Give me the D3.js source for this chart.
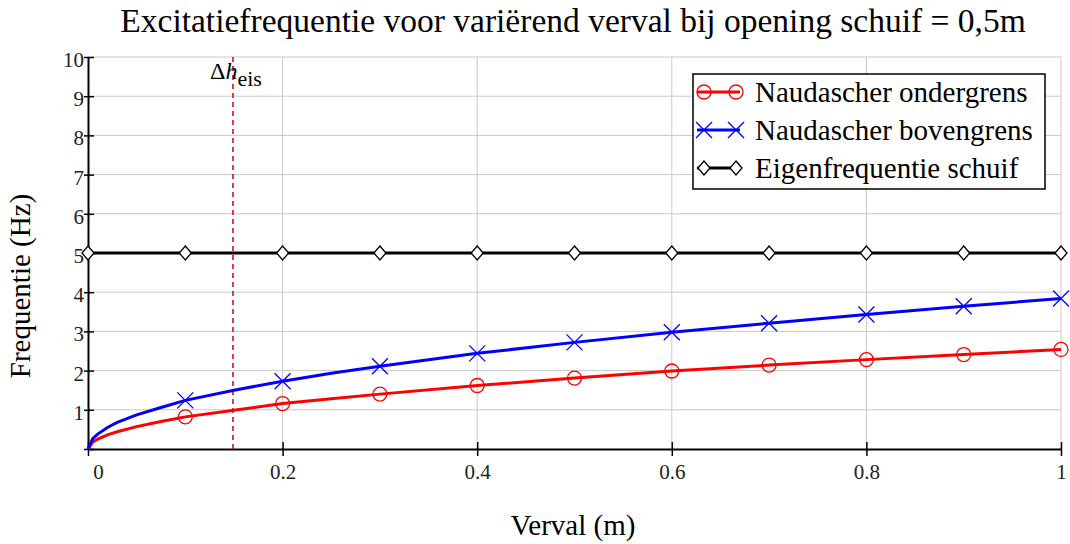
<!DOCTYPE html>
<html>
<head>
<meta charset="utf-8">
<script src="https://cdn.jsdelivr.net/npm/d3@7"></script>
<style>
  body { margin: 0; background: #fff; }
  svg { display: block; font-family: "Liberation Serif", "Times New Roman", serif; }
  .grid line { stroke: #c8c8c8; stroke-width: 1; }
</style>
</head>
<body>
<svg id="chart" width="1070" height="544"></svg>
<script>
"use strict";

// Verval (m) sample points
const verval = [0, 0.005, 0.01, 0.02, 0.03, 0.05, 0.075, 0.1, 0.15, 0.2, 0.25, 0.3, 0.4, 0.5, 0.6, 0.7, 0.8, 0.9, 1.0];
const ondergrens = [0, 0.18, 0.25, 0.36, 0.44, 0.57, 0.70, 0.82, 0.99, 1.16, 1.28, 1.40, 1.62, 1.81, 1.99, 2.14, 2.28, 2.41, 2.54];
const bovengrens = [0, 0.27, 0.38, 0.55, 0.68, 0.87, 1.06, 1.24, 1.50, 1.73, 1.93, 2.11, 2.44, 2.72, 2.98, 3.21, 3.43, 3.64, 3.84];

// Marker positions (every 0.1 m)
const markerX = [0, 0.1, 0.2, 0.3, 0.4, 0.5, 0.6, 0.7, 0.8, 0.9, 1.0];
const ondergrensMarkers = [0, 0.82, 1.16, 1.40, 1.62, 1.81, 1.99, 2.14, 2.28, 2.41, 2.54];
const bovengrensMarkers = [0, 1.24, 1.73, 2.11, 2.44, 2.72, 2.98, 3.21, 3.43, 3.64, 3.84];
const eigenfrequentie = [5, 5, 5, 5, 5, 5, 5, 5, 5, 5, 5];

const deltaHEis = 0.149;

const xTicks = [0, 0.2, 0.4, 0.6, 0.8, 1];
const xTickLabels = ["0", "0.2", "0.4", "0.6", "0.8", "1"];
const yTicks = [0, 1, 2, 3, 4, 5, 6, 7, 8, 9, 10];
const yTickLabels = ["", "1", "2", "3", "4", "5", "6", "7", "8", "9", "10"];

const legendItems = [
  {label: "Naudascher ondergrens", color: "#ff0000", marker: "circle"},
  {label: "Naudascher bovengrens", color: "#0000ff", marker: "cross"},
  {label: "Eigenfrequentie schuif", color: "#000000", marker: "diamond"},
];

const serif = "'Liberation Serif', 'Times New Roman', serif";

const svg = d3.select("#chart");
const margin = {left: 88, top: 57, right: 9, bottom: 95};
const width = 1070 - margin.left - margin.right;
const height = 544 - margin.top - margin.bottom;

const xScale = d3.scaleLinear().domain([0, 1]).range([0, width]);
const yScale = d3.scaleLinear().domain([0, 10]).range([height, 0]);

const g = svg.append("g").attr("transform", `translate(${margin.left},${margin.top})`);

// Grid
const grid = g.append("g").attr("class", "grid");
grid.selectAll("line.gx")
    .data(xTicks.slice(1))
    .enter()
    .append("line")
    .attr("x1", d => xScale(d)).attr("x2", d => xScale(d))
    .attr("y1", 0).attr("y2", height);
grid.selectAll("line.gy")
    .data(yTicks.slice(1))
    .enter()
    .append("line")
    .attr("x1", 0).attr("x2", width)
    .attr("y1", d => yScale(d)).attr("y2", d => yScale(d));

// Axes
const xAxis = d3.axisBottom(xScale)
                .tickValues(xTicks)
                .tickFormat((d, i) => xTickLabels[i])
                .tickSizeInner(7)
                .tickSizeOuter(0)
                .tickPadding(8);
const xAxisG = g.append("g").attr("transform", `translate(0,${height})`).call(xAxis);
xAxisG.select(".domain").attr("stroke", "#000").attr("stroke-width", 2);
xAxisG.selectAll(".tick line").attr("y1", -7).attr("stroke-width", 1.5);
xAxisG.selectAll(".tick text")
      .style("font-family", serif)
      .style("font-size", "21px")
      .attr("fill", "#222")
      .attr("dx", (d, i) => i === 0 ? 10 : 0);

const yAxis = d3.axisLeft(yScale)
                .tickValues(yTicks)
                .tickFormat((d, i) => yTickLabels[i])
                .tickSizeInner(5)
                .tickSizeOuter(0)
                .tickPadding(-1);
const yAxisG = g.append("g").call(yAxis);
yAxisG.select(".domain").attr("stroke", "#000").attr("stroke-width", 2);
yAxisG.selectAll(".tick line").attr("x2", 6).attr("x1", -4).attr("stroke-width", 1.5);
yAxisG.selectAll(".tick text")
      .style("font-family", serif)
      .style("font-size", "21px")
      .attr("fill", "#222")
      .attr("dy", "0.45em");

// Δh_eis line
g.append("line")
  .attr("x1", xScale(deltaHEis)).attr("x2", xScale(deltaHEis))
  .attr("y1", 0).attr("y2", height)
  .attr("stroke", "#c8102e")
  .attr("stroke-width", 1.6)
  .attr("stroke-dasharray", "5,4");

const dh = g.append("text")
    .attr("x", xScale(deltaHEis) - 23)
    .attr("y", 22)
    .attr("font-size", 24)
    .attr("fill", "#000");
dh.append("tspan").text("Δ");
dh.append("tspan").attr("font-style", "italic").text("h");
dh.append("tspan").attr("dy", 7).attr("font-size", 22).text("eis");

// Lines
const line = d3.line()
               .x(d => xScale(d[0]))
               .y(d => yScale(d[1]));

const renderSeries = (xs, ys, color, widthPx) => {
  g.append("path")
    .datum(xs.map((x, i) => [x, ys[i]]))
    .attr("fill", "none")
    .attr("stroke", color)
    .attr("stroke-width", widthPx)
    .attr("d", line);
};

renderSeries(markerX, eigenfrequentie, "#000", 3);
renderSeries(verval, ondergrens, "#ff0000", 3);
renderSeries(verval, bovengrens, "#0000ff", 3);

// Markers
const drawMarker = (sel, type, color) => {
  if (type === "circle") {
    sel.append("circle").attr("r", 7).attr("fill", "none")
       .attr("stroke", color).attr("stroke-width", 1.3);
  } else if (type === "cross") {
    sel.append("path").attr("d", "M-8,-8L8,8M-8,8L8,-8")
       .attr("stroke", color).attr("stroke-width", 1.3);
  } else {
    sel.append("path").attr("d", "M0,-7L6,0L0,7L-6,0Z")
       .attr("fill", "#fff").attr("stroke", color).attr("stroke-width", 1.3);
  }
};

const renderMarkers = (xs, ys, type, color) => {
  const sel = g.append("g")
    .selectAll("g")
    .data(xs.map((x, i) => [x, ys[i]]).slice(type === "diamond" ? 0 : 1))
    .enter()
    .append("g")
    .attr("transform", d => `translate(${xScale(d[0])},${yScale(d[1])})`);
  drawMarker(sel, type, color);
};

renderMarkers(markerX, eigenfrequentie, "diamond", "#000");
renderMarkers(markerX, ondergrensMarkers, "circle", "#ff0000");
renderMarkers(markerX, bovengrensMarkers, "cross", "#0000ff");

// Legend
const legend = svg.append("g").attr("transform", "translate(693,74)");
legend.append("rect")
  .attr("width", 352).attr("height", 115)
  .attr("fill", "#fff").attr("stroke", "#000").attr("stroke-width", 1.5);

legendItems.forEach((item, i) => {
  const row = legend.append("g").attr("transform", `translate(0,${18 + i * 38})`);
  row.append("line").attr("x1", 4).attr("x2", 47)
     .attr("stroke", item.color).attr("stroke-width", 3);
  [11, 43].forEach(cx => {
    drawMarker(row.append("g").attr("transform", `translate(${cx},0)`), item.marker, item.color);
  });
  row.append("text")
     .attr("x", 62).attr("y", 0).attr("dy", "0.33em")
     .attr("font-size", 29).attr("fill", "#000")
     .text(item.label);
});

// Titles
svg.append("text")
  .attr("x", 573).attr("y", 32)
  .attr("text-anchor", "middle")
  .attr("font-size", 33.5).attr("fill", "#000")
  .text("Excitatiefrequentie voor variërend verval bij opening schuif = 0,5m");

svg.append("text")
  .attr("x", 573).attr("y", 535)
  .attr("text-anchor", "middle")
  .attr("font-size", 29).attr("fill", "#000")
  .text("Verval (m)");

svg.append("text")
  .attr("transform", "translate(30,286) rotate(-90)")
  .attr("text-anchor", "middle")
  .attr("font-size", 29).attr("fill", "#000")
  .text("Frequentie (Hz)");
</script>
</body>
</html>
